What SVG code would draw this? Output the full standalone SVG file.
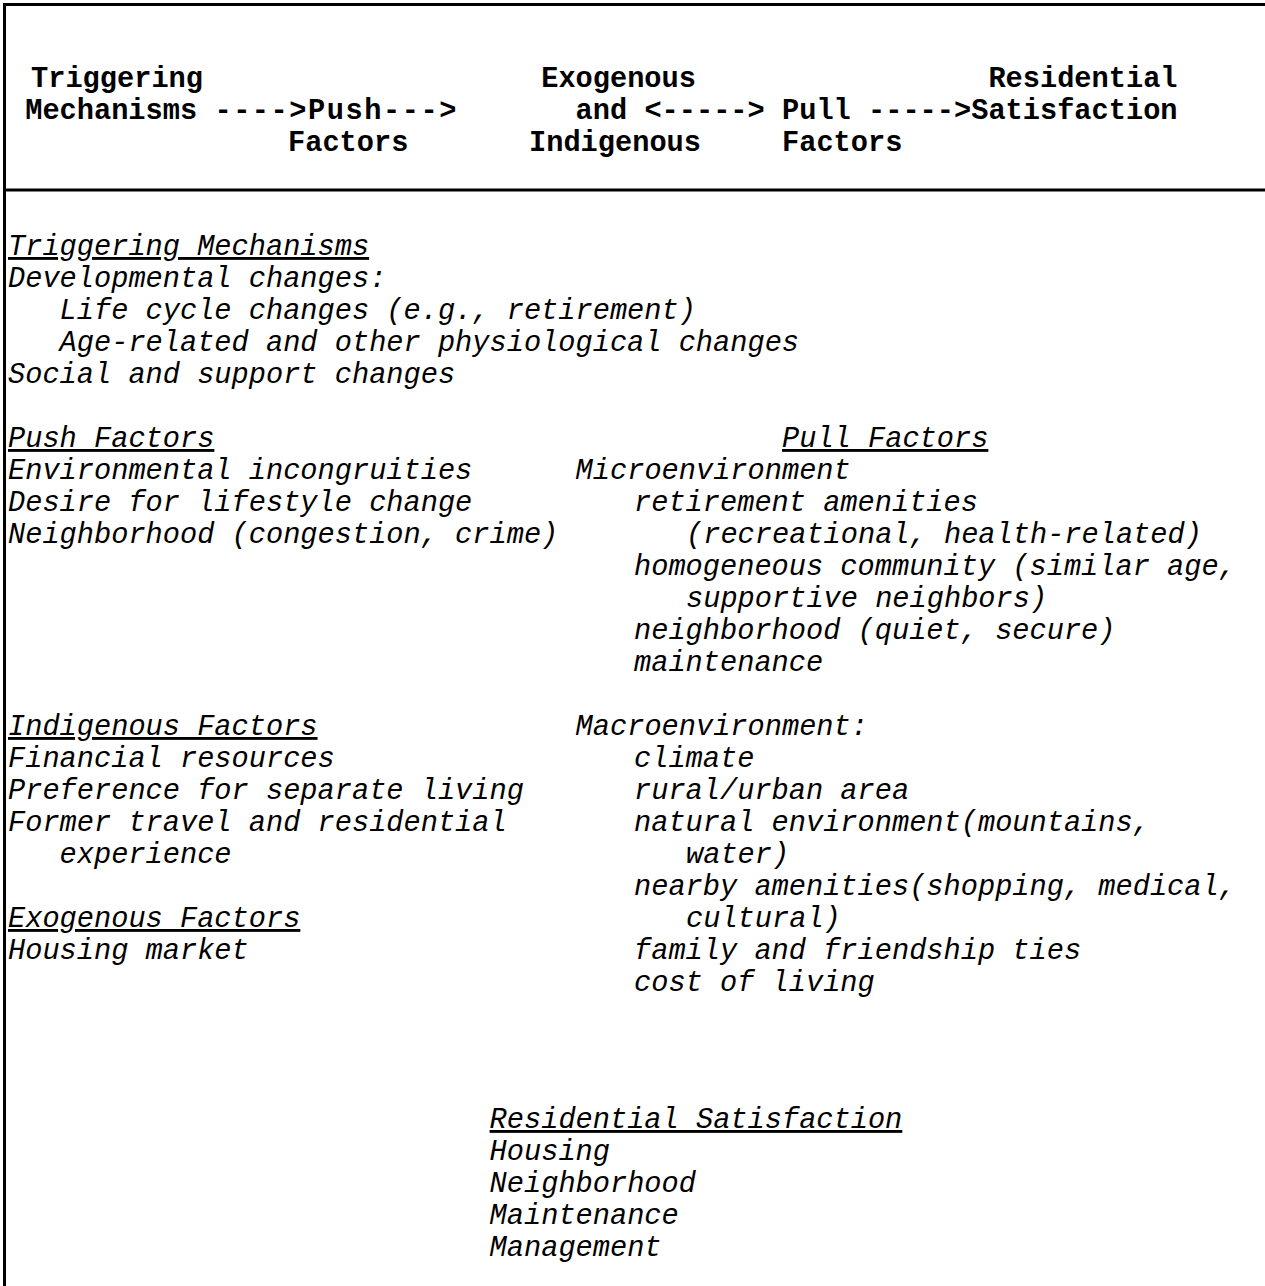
<svg xmlns="http://www.w3.org/2000/svg" width="1265" height="1286" viewBox="0 0 1265 1286">
  <style>
    .hd { font-family: "Liberation Mono", "Courier New", monospace; font-size: 28.67px; font-weight: bold; fill: #000; white-space: pre; }
    .bd { font-family: "Liberation Mono", "Courier New", monospace; font-size: 28.67px; font-style: italic; fill: #000; white-space: pre; }
    .ul { text-decoration: underline; }
    .frame { stroke: #000; stroke-width: 3; fill: none; }
  </style>
  <rect width="1265" height="1286" fill="#fff"/>
  <g id="frame">
    <line class="frame" x1="3" y1="4.5" x2="1265" y2="4.5"/>
    <line class="frame" x1="4.5" y1="3" x2="4.5" y2="1286"/>
    <line class="frame" x1="3" y1="190" x2="1265" y2="190"/>
  </g>
  <g id="header">
    <text class="hd" x="31" y="87">Triggering</text>
    <text class="hd" x="541.2" y="87">Exogenous</text>
    <text class="hd" x="988.4" y="87">Residential</text>
    <text class="hd" x="25.2" y="119">Mechanisms</text>
    <text class="hd" x="214.4" y="119" textLength="242" lengthAdjust="spacing">----&gt;Push---&gt;</text>
    <text class="hd" x="575.6" y="119">and</text>
    <text class="hd" x="644.4" y="119">&lt;-----&gt;</text>
    <text class="hd" x="782" y="119">Pull</text>
    <text class="hd" x="868" y="119">-----&gt;Satisfaction</text>
    <text class="hd" x="288" y="151">Factors</text>
    <text class="hd" x="529" y="151">Indigenous</text>
    <text class="hd" x="782" y="151">Factors</text>
  </g>
  <g id="connectors"></g>
  <g id="triggering">
    <text class="bd ul" x="8" y="255">Triggering Mechanisms</text>
    <text class="bd" x="8" y="287">Developmental changes:</text>
    <text class="bd" x="59.6" y="319">Life cycle changes (e.g., retirement)</text>
    <text class="bd" x="59.6" y="351">Age-related and other physiological changes</text>
    <text class="bd" x="8" y="383">Social and support changes</text>
  </g>
  <g id="push">
    <text class="bd ul" x="8" y="447">Push Factors</text>
    <text class="bd" x="8" y="479">Environmental incongruities</text>
    <text class="bd" x="8" y="511">Desire for lifestyle change</text>
    <text class="bd" x="8" y="543">Neighborhood (congestion, crime)</text>
  </g>
  <g id="pull">
    <text class="bd ul" x="782" y="447">Pull Factors</text>
    <text class="bd" x="575.6" y="479">Microenvironment</text>
    <text class="bd" x="634" y="511">retirement amenities</text>
    <text class="bd" x="686" y="543">(recreational, health-related)</text>
    <text class="bd" x="634" y="575">homogeneous community (similar age,</text>
    <text class="bd" x="686" y="607">supportive neighbors)</text>
    <text class="bd" x="634" y="639">neighborhood (quiet, secure)</text>
    <text class="bd" x="634" y="671">maintenance</text>
    <text class="bd" x="575.6" y="735">Macroenvironment:</text>
    <text class="bd" x="634" y="767">climate</text>
    <text class="bd" x="634" y="799">rural/urban area</text>
    <text class="bd" x="634" y="831">natural environment(mountains,</text>
    <text class="bd" x="686" y="863">water)</text>
    <text class="bd" x="634" y="895">nearby amenities(shopping, medical,</text>
    <text class="bd" x="686" y="927">cultural)</text>
    <text class="bd" x="634" y="959">family and friendship ties</text>
    <text class="bd" x="634" y="991">cost of living</text>
  </g>
  <g id="indigenous">
    <text class="bd ul" x="8" y="735">Indigenous Factors</text>
    <text class="bd" x="8" y="767">Financial resources</text>
    <text class="bd" x="8" y="799">Preference for separate living</text>
    <text class="bd" x="8" y="831">Former travel and residential</text>
    <text class="bd" x="59.6" y="863">experience</text>
  </g>
  <g id="exogenous">
    <text class="bd ul" x="8" y="927">Exogenous Factors</text>
    <text class="bd" x="8" y="959">Housing market</text>
  </g>
  <g id="residential">
    <text class="bd ul" x="489.6" y="1128">Residential Satisfaction</text>
    <text class="bd" x="489.6" y="1160">Housing</text>
    <text class="bd" x="489.6" y="1192">Neighborhood</text>
    <text class="bd" x="489.6" y="1224">Maintenance</text>
    <text class="bd" x="489.6" y="1256">Management</text>
  </g>
</svg>
